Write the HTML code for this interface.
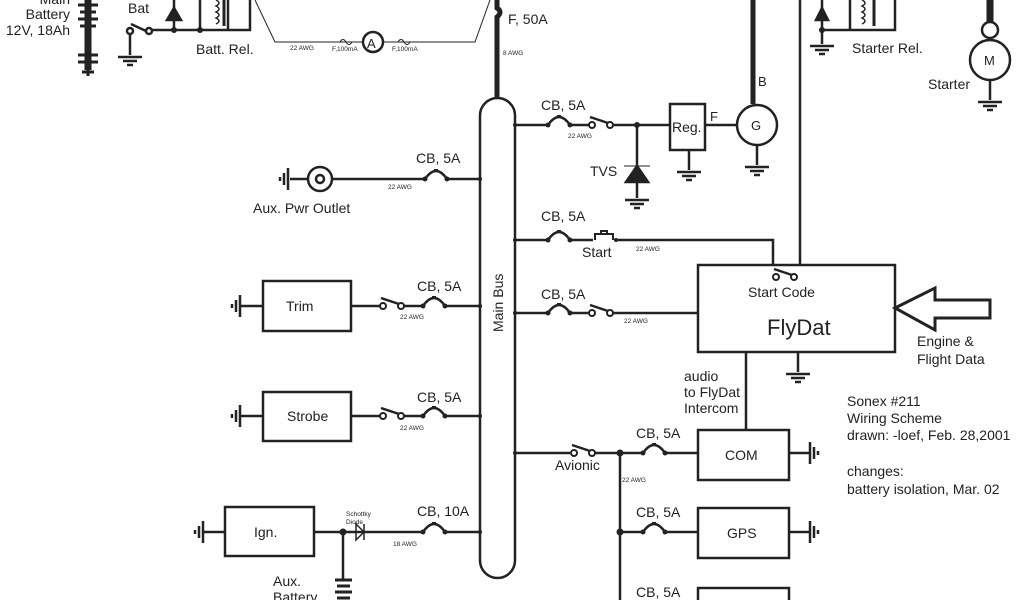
<!DOCTYPE html>
<html><head><style>body{margin:0;background:#fff}svg{display:block}text{font-family:"Liberation Sans",sans-serif;fill:#222}</style></head><body>
<svg width="1024" height="600" viewBox="0 0 1024 600" xmlns="http://www.w3.org/2000/svg">
<defs>
<g id="cb"><path d="M0 0 q11 -16 22 0" fill="none" stroke="#222" stroke-width="2.5"/><rect x="9" y="-10" width="4" height="3" fill="#222"/><circle cx="0" cy="0" r="2.5" fill="#222"/><circle cx="22" cy="0" r="2.5" fill="#222"/></g>
<g id="sw"><circle cx="0" cy="0" r="3" fill="#fff" stroke="#222" stroke-width="2"/><circle cx="18" cy="0" r="3" fill="#fff" stroke="#222" stroke-width="2"/><line x1="-2" y1="-8" x2="16" y2="-2" stroke="#222" stroke-width="2.5"/></g>
<g id="gd" stroke="#222" stroke-width="2.5"><line x1="-12" y1="0" x2="12" y2="0"/><line x1="-7" y1="4" x2="7" y2="4"/><line x1="-3" y1="8" x2="3" y2="8"/></g>
<g id="gl" stroke="#222" stroke-width="2.5"><line x1="0" y1="-11" x2="0" y2="11"/><line x1="-4" y1="-6" x2="-4" y2="6"/><line x1="-8" y1="-2" x2="-8" y2="2"/></g>
<g id="gr" stroke="#222" stroke-width="2.5"><line x1="0" y1="-11" x2="0" y2="11"/><line x1="4" y1="-6" x2="4" y2="6"/><line x1="8" y1="-2" x2="8" y2="2"/></g>
</defs>
<g fill="none" stroke="#222" stroke-width="2.5">
<!-- top thin ammeter loop -->
<path d="M255 0 L275 42 L363 42 M383 42 L475 42 L490 0" stroke-width="1"/>
<path d="M340 42 q3 -5 6 0 q3 5 6 0 M398 42 q3 -5 6 0 q3 5 6 0" stroke-width="1"/>
<circle cx="373" cy="42" r="10" stroke-width="2.5"/>
<!-- main feed -->
<path d="M497 0 L497 8 q6 4 0 9 L497 98" stroke-width="5"/>
<rect x="480" y="98" width="35" height="480" rx="17.5"/>
<!-- battery -->
<line x1="88" y1="0" x2="88" y2="70" stroke-width="7"/>
<path d="M78 5 H98 M80 12 H96 M78 19 H98 M80 26 H96 M78 55 H98 M78 62 H98 M88 70 V76 M82 72 H94" stroke-width="3"/>
<!-- Bat switch & relay -->
<path d="M130 35 V55 M131 24 L146 31 M150 30 H200 M174 30 V0 M200 30 V0 M200 30 H228 V0 M228 30 H250 V0"/>
<circle cx="130" cy="31" r="3" fill="#fff"/><circle cx="149" cy="31" r="3" fill="#fff"/>
<path d="M167 20 H181 L174 8 Z" fill="#222"/>
<path d="M216 0 q6 3 0 6 q6 3 0 6 q6 3 0 6 q6 3 0 6" stroke-width="1.5"/>
<line x1="224" y1="0" x2="224" y2="26" stroke-width="3"/>
<!-- Gen line -->
<line x1="753" y1="0" x2="753" y2="104" stroke-width="5"/>
<circle cx="757" cy="125" r="20"/>
<path d="M515 125 H548 M570 125 H590 M612 125 H670 M705 125 H737 M637 125 V168 M637 182 V198 M689 150 V170 M757 145 V165"/>
<rect x="670" y="104" width="35" height="46"/>
<path d="M626 182 H648 L637 166 Z" fill="#222"/>
<path d="M624 166 H650" stroke-width="1"/>
<!-- thin start line -->
<line x1="800" y1="0" x2="800" y2="265"/>
<!-- starter relay -->
<path d="M822 30 V44 M822 0 V30 H850 V0 M850 30 H895 V0 M822 30 H866"/>
<path d="M816 20 H828 L822 8 Z" fill="#222"/>
<line x1="874" y1="0" x2="874" y2="26" stroke-width="3"/>
<path d="M862 0 q6 3 0 6 q6 3 0 6 q6 3 0 6 q6 3 0 6" stroke-width="1.5"/>
<line x1="990" y1="0" x2="990" y2="22" stroke-width="7"/>
<circle cx="990" cy="30" r="8"/><circle cx="990" cy="60" r="20"/>
<line x1="990" y1="80" x2="990" y2="100"/>
<!-- Aux pwr outlet -->
<circle cx="320" cy="179" r="12"/><circle cx="320" cy="179" r="4"/>
<path d="M290 179 H308 M332 179 H425 M447 179 H480"/>
<!-- Trim -->
<rect x="263" y="281" width="88" height="50"/>
<path d="M240 306 H263 M351 306 H380 M404 306 H423 M445 306 H480"/>
<!-- Strobe -->
<rect x="263" y="392" width="88" height="49"/>
<path d="M240 416 H263 M351 416 H380 M404 416 H423 M445 416 H480"/>
<!-- Ign -->
<rect x="225" y="507" width="89" height="49"/>
<path d="M203 532 H225 M314 532 H423 M445 532 H480 M343 532 V580"/>
<path d="M364 524 V540 M364 532 L356 524 V540 Z" stroke-width="1.5"/>
<path d="M335 580 H352 M337 586 H350 M335 592 H352 M337 598 H350" stroke-width="3"/>
<!-- right branches -->
<path d="M515 240 H548 M570 240 H593 M616 240 H773 V265"/>
<path d="M595 240 V234 H613 V240 M601 234 V231 H607 V234" stroke-width="2"/>
<path d="M515 313 H548 M570 313 H590 M612 313 H698"/>
<rect x="698" y="265" width="197" height="87"/>
<path d="M798 352 V372 M746 352 V430"/>
<path d="M895 308 L935 288 V300 H990 V318 H935 V330 Z" stroke-width="3"/>
<path d="M515 453 H570 M594 453 H643 M665 453 H698 M620 453 V600 M620 532 H643 M665 532 H698 M789 453 H810 M789 532 H810"/>
<rect x="698" y="430" width="91" height="50"/>
<rect x="698" y="508" width="91" height="50"/>
<rect x="698" y="588" width="91" height="20"/>
</g>
<use href="#gd" x="130" y="57"/><use href="#gd" x="637" y="200"/><use href="#gd" x="689" y="172"/><use href="#gd" x="757" y="167"/><use href="#gd" x="822" y="46"/><use href="#gd" x="990" y="102"/><use href="#gd" x="798" y="374"/>
<use href="#gl" x="288" y="179"/><use href="#gl" x="240" y="306"/><use href="#gl" x="240" y="416"/><use href="#gl" x="203" y="532"/>
<use href="#gr" x="810" y="453"/><use href="#gr" x="810" y="532"/>
<use href="#cb" x="425" y="179"/><use href="#cb" x="423" y="306"/><use href="#cb" x="423" y="416"/><use href="#cb" x="423" y="532"/>
<use href="#cb" x="548" y="125"/><use href="#cb" x="548" y="240"/><use href="#cb" x="548" y="313"/>
<use href="#cb" x="643" y="453"/><use href="#cb" x="643" y="532"/>
<use href="#sw" x="383" y="306"/><use href="#sw" x="383" y="416"/><use href="#sw" x="592" y="125"/><use href="#sw" x="592" y="313"/><use href="#sw" x="574" y="453"/><use href="#sw" x="776" y="277"/>
<g fill="#222"><circle cx="174" cy="30" r="3"/><circle cx="200" cy="30" r="3"/><circle cx="637" cy="125" r="3"/><circle cx="822" cy="30" r="3"/><circle cx="343" cy="532" r="3.5"/><circle cx="620" cy="453" r="3.5"/><circle cx="620" cy="532" r="3.5"/><circle cx="515" cy="125" r="2"/><circle cx="515" cy="240" r="2"/><circle cx="515" cy="313" r="2"/><circle cx="515" cy="453" r="2"/><circle cx="480" cy="179" r="2"/><circle cx="480" cy="306" r="2"/><circle cx="480" cy="416" r="2"/><circle cx="480" cy="532" r="2"/><circle cx="616" cy="240" r="2"/></g>
<g font-size="14">
<text x="70" y="4" text-anchor="end">Main</text>
<text x="70" y="19" text-anchor="end">Battery</text>
<text x="70" y="35" text-anchor="end">12V, 18Ah</text>
<text x="128" y="13">Bat</text>
<text x="196" y="54">Batt. Rel.</text>
<text x="508" y="24">F, 50A</text>
<text x="852" y="53">Starter Rel.</text>
<text x="928" y="89">Starter</text>
<text x="984" y="65" font-size="13">M</text>
<text x="751" y="130" font-size="13">G</text>
<text x="672" y="132">Reg.</text>
<text x="710" y="121" font-size="13">F</text>
<text x="758" y="86" font-size="13">B</text>
<text x="590" y="176">TVS</text>
<text x="367" y="48" font-size="13">A</text>
<text x="416" y="163">CB, 5A</text>
<text x="253" y="213">Aux. Pwr Outlet</text>
<text x="417" y="291">CB, 5A</text>
<text x="286" y="311">Trim</text>
<text x="417" y="402">CB, 5A</text>
<text x="287" y="421">Strobe</text>
<text x="417" y="516">CB, 10A</text>
<text x="254" y="537">Ign.</text>
<text x="273" y="586">Aux.</text>
<text x="273" y="602">Battery</text>
<text x="541" y="110">CB, 5A</text>
<text x="541" y="221">CB, 5A</text>
<text x="582" y="257">Start</text>
<text x="541" y="299">CB, 5A</text>
<text x="748" y="297">Start Code</text>
<text x="767" y="335" font-size="22">FlyDat</text>
<text x="917" y="346">Engine &amp;</text>
<text x="917" y="364">Flight Data</text>
<text x="684" y="381">audio</text>
<text x="684" y="397">to FlyDat</text>
<text x="684" y="413">Intercom</text>
<text x="555" y="470">Avionic</text>
<text x="636" y="438">CB, 5A</text>
<text x="725" y="460">COM</text>
<text x="636" y="517">CB, 5A</text>
<text x="727" y="538">GPS</text>
<text x="636" y="597">CB, 5A</text>
<text x="847" y="406">Sonex #211</text>
<text x="847" y="423">Wiring Scheme</text>
<text x="847" y="440">drawn: -loef, Feb. 28,2001</text>
<text x="847" y="476">changes:</text>
<text x="847" y="494">battery isolation, Mar. 02</text>
<text transform="translate(503,332) rotate(-90)">Main Bus</text>
</g>
<g font-size="6.5">
<text x="290" y="50">22 AWG</text><text x="332" y="51">F,100mA</text><text x="392" y="51">F,100mA</text>
<text x="503" y="55">8 AWG</text><text x="568" y="138">22 AWG</text>
<text x="388" y="189">22 AWG</text><text x="400" y="319">22 AWG</text><text x="400" y="430">22 AWG</text>
<text x="393" y="546">18 AWG</text><text x="346" y="516">Schottky</text><text x="346" y="524">Diode</text>
<text x="636" y="251">22 AWG</text><text x="624" y="323">22 AWG</text><text x="622" y="482">22 AWG</text>
</g>
</svg>
</body></html>
